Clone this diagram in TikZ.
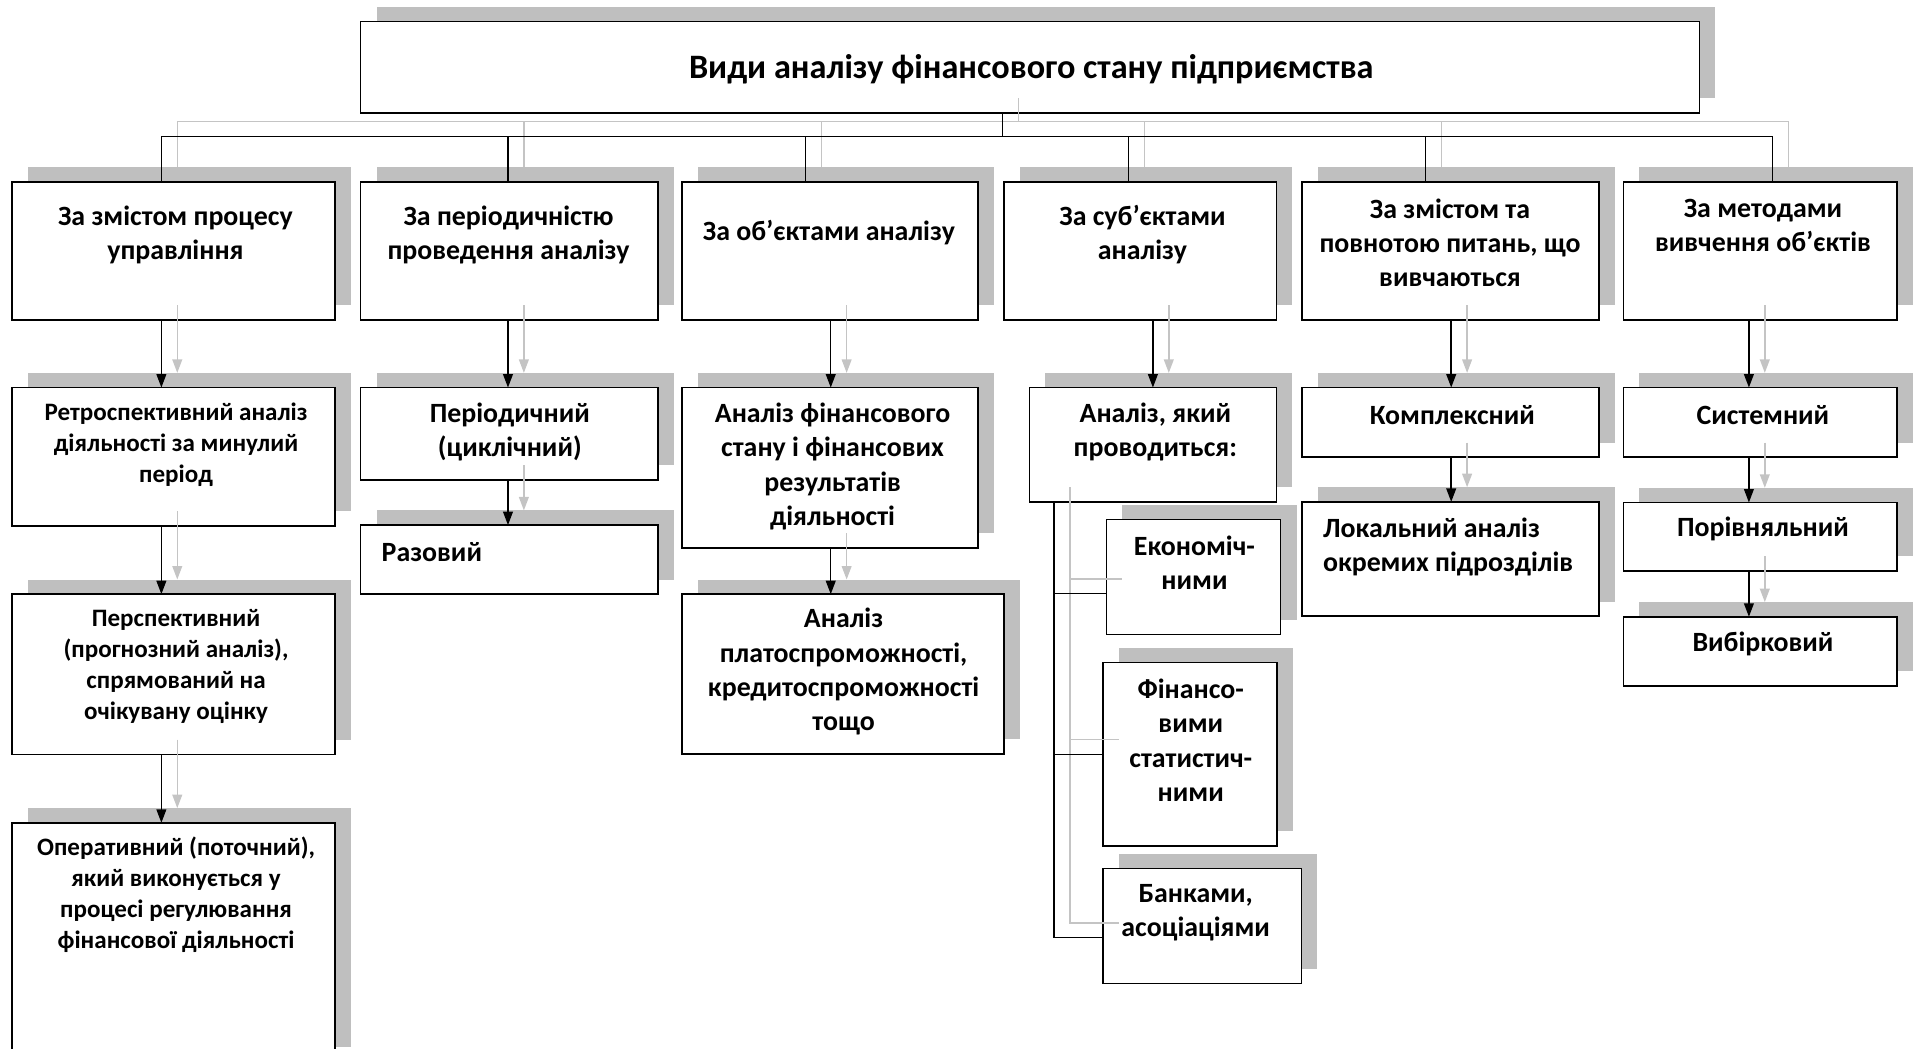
\documentclass[tikz,border=0pt]{standalone}
\usepackage{fontspec}
\setmainfont{Carlito}
\usetikzlibrary{arrows.meta}
\definecolor{shd}{RGB}{191,191,191}
\definecolor{gln}{RGB}{196,196,196}
\pgfdeclarelayer{bg}
\pgfsetlayers{bg,main}
\tikzset{
  bx/.style={draw=black, fill=white, line width=1.3pt, inner sep=0pt, outer sep=0pt, anchor=north west},
  tx/.style={font=\bfseries\fontsize{22.8}{28}\selectfont, align=center, inner sep=0pt},
  txs/.style={font=\bfseries\fontsize{20.5}{25.5}\selectfont, align=center, inner sep=0pt},
  ln/.style={line width=1.2pt},
  arr/.style={line width=1.2pt, -{Triangle[length=11pt,width=8pt]}},
}
\newcommand\mkbox[5]{%
  \node[bx, minimum width=#4pt, minimum height=#5pt] (#1) at (#2,#3) {};
  \begin{pgfonlayer}{bg}
    \fill[shd] ([shift={(13,-12)}]#1.north west) rectangle ([shift={(13,-12)}]#1.south east);
  \end{pgfonlayer}}
\newcommand\conns[1]{%
  \draw[ln,#1] (title.south -| j0) -- (j0);
  \draw[ln,#1] (j1) -- (j6);
  \foreach \k/\b in {1/b1,2/b2,3/b3,4/b4,5/b5,6/b6} {\draw[ln,#1] (j\k) -- (\b.north -| j\k);}
  \draw[arr,#1] (b1.south -| a1) -- (r1.north -| a1);
  \draw[arr,#1] (r1.south -| a1) -- (r2.north -| a1);
  \draw[arr,#1] (r2.south -| a1) -- (r3.north -| a1);
  \draw[arr,#1] (b2.south -| a2) -- (p1.north -| a2);
  \draw[arr,#1] (p1.south -| a2) -- (p2.north -| a2);
  \draw[arr,#1] (b3.south -| a3) -- (o1.north -| a3);
  \draw[arr,#1] (o1.south -| a3) -- (o2.north -| a3);
  \draw[arr,#1] (b4.south -| a4) -- (s1.north -| a4);
  \draw[arr,#1] (b5.south -| a5) -- (c1.north -| a5);
  \draw[arr,#1] (c1.south -| a5) -- (c2.north -| a5);
  \draw[arr,#1] (b6.south -| a6) -- (m1.north -| a6);
  \draw[arr,#1] (m1.south -| a6) -- (m2.north -| a6);
  \draw[arr,#1] (m2.south -| a6) -- (m3.north -| a6);
  \draw[ln,#1] (s1.south -| v) -- (v |- h4) -- (s4.west |- h4);
  \draw[ln,#1] (v |- h2) -- (s2.west |- h2);
  \draw[ln,#1] (v |- h3) -- (s3.west |- h3);
}
\begin{document}
\begin{tikzpicture}[x=1pt,y=-1pt]
\useasboundingbox (0,0) rectangle (1568,858);
\clip (0,0) rectangle (1568,858);
% coordinates
\coordinate (j0) at (820,111.5);
\coordinate (j1) at (132,111.5);
\coordinate (j2) at (415.5,111.5);
\coordinate (j3) at (659,111.5);
\coordinate (j4) at (923,111.5);
\coordinate (j5) at (1166,111.5);
\coordinate (j6) at (1450,111.5);
\coordinate (a1) at (132,0);
\coordinate (a2) at (415.5,0);
\coordinate (a3) at (679.5,0);
\coordinate (a4) at (943,0);
\coordinate (a5) at (1187,0);
\coordinate (a6) at (1430.5,0);
\coordinate (v) at (862,0);
\coordinate (h2) at (0,485.5);
\coordinate (h3) at (0,617);
\coordinate (h4) at (0,767);
% boxes
\mkbox{title}{295}{17.5}{1095}{75}
\mkbox{b1}{10}{148.8}{264}{113}
\mkbox{b2}{295}{148.8}{243}{113}
\mkbox{b3}{558}{148.8}{242}{113}
\mkbox{b4}{821}{148.8}{223}{113}
\mkbox{b5}{1065}{148.8}{243}{113}
\mkbox{b6}{1328}{148.8}{223.5}{113}
\mkbox{r1}{10}{317}{264}{113}
\mkbox{r2}{10}{486}{264}{131}
\mkbox{r3}{10}{673}{264}{195}
\mkbox{p1}{295}{317}{243}{75.5}
\mkbox{p2}{295}{429.5}{243}{56.5}
\mkbox{o1}{558}{317}{242}{131}
\mkbox{o2}{558}{486}{263}{130.5}
\mkbox{s1}{842}{317}{202}{93.5}
\mkbox{s2}{905}{425}{142.5}{94}
\mkbox{s3}{902}{542}{142.5}{150}
\mkbox{s4}{902}{710.5}{162.5}{94}
\mkbox{c1}{1065}{317}{243}{57}
\mkbox{c2}{1065}{410.5}{243}{93.5}
\mkbox{m1}{1328}{317}{223.5}{57}
\mkbox{m2}{1328}{411}{223.5}{56}
\mkbox{m3}{1328}{504.5}{223.5}{56.5}
% connectors: shadow then black
\begin{scope}[transform canvas={xshift=13pt,yshift=12pt}]
\conns{gln}
\end{scope}
\conns{black}
% texts
\node[tx, font=\bfseries\fontsize{28}{32}\selectfont] (tt) at (843.5,57) {Види аналізу фінансового стану підприємства};
\node[tx] (t1) at (143.5,192) {За змістом процесу\\управління};
\node[tx] (t2) at (416,192) {За періодичністю\\проведення аналізу};
\node[tx] (t3) at (678,190.5) {За об’єктами аналізу};
\node[tx] (t4) at (934.5,192) {За суб’єктами\\аналізу};
\node[tx] (t5) at (1186,198.5) {За змістом та\\повнотою питань, що\\вивчаються};
\node[tx] (t6) at (1442,184.5) {За методами\\вивчення об’єктів};
\node[txs] (tr1) at (144,364) {Ретроспективний аналіз\\діяльності за минулий\\період};
\node[txs] (tr2) at (144,545) {Перспективний\\(прогнозний аналіз),\\спрямований на\\очікувану оцінку};
\node[txs] (tr3) at (144,732) {Оперативний (поточний),\\який виконується у\\процесі регулювання\\фінансової діяльності};
\node[tx] (tp1) at (417,353.5) {Періодичний\\(циклічний)};
\node[tx, anchor=west] (tp2) at (312,451.5) {Разовий};
\node[tx] (to1) at (681,381.5) {Аналіз фінансового\\стану і фінансових\\результатів\\діяльності};
\node[tx] (to2) at (690,549.5) {Аналіз\\платоспроможності,\\кредитоспроможності\\тощо};
\node[tx] (ts1) at (945,353.5) {Аналіз, який\\проводиться:};
\node[tx] (ts2) at (977,460.5) {Економіч-\\ними};
\node[tx] (ts3) at (974,605.5) {Фінансо-\\вими\\статистич-\\ними};
\node[tx] (ts4) at (978,746.5) {Банками,\\асоціаціями};
\node[tx] (tc1) at (1188,339.5) {Комплексний};
\node[tx, anchor=west, align=left] (tc2) at (1082,447.5) {Локальний аналіз\\окремих підрозділів};
\node[tx] (tm1) at (1442,339.5) {Системний};
\node[tx] (tm2) at (1442,432.5) {Порівняльний};
\node[tx] (tm3) at (1442,526.5) {Вибірковий};
\end{tikzpicture}
\end{document}
